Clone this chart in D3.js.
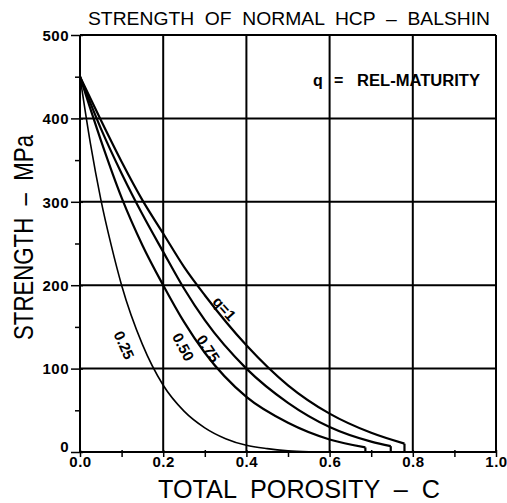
<!DOCTYPE html>
<html><head><meta charset="utf-8">
<script src="https://cdn.jsdelivr.net/npm/d3@7"></script>
<style>body{margin:0;background:#fff}svg{display:block}text{white-space:pre}</style>
</head><body>
<script>
// ---- data ----
const xTicks = [0, 0.2, 0.4, 0.6, 0.8, 1.0];
const xTickLabels = ["0.0", "0.2", "0.4", "0.6", "0.8", "1.0"];
const yTicks = [0, 100, 200, 300, 400, 500];
const yTickLabels = ["0", "100", "200", "300", "400", "500"];
const seriesNames = ["q=1", "0.75", "0.50", "0.25"];
const curveQ1 = [[0,450],[0.05,398],[0.1,348],[0.15,302],[0.2,262],[0.25,222],[0.3,188],[0.4,128],[0.5,80],[0.6,46],[0.7,23],[0.78,10]];
const curveQ075 = [[0,450],[0.05,388],[0.1,334],[0.15,285],[0.2,240],[0.25,196],[0.3,158],[0.4,100],[0.5,59],[0.6,30],[0.7,12.5],[0.747,7]];
const curveQ050 = [[0,450],[0.05,374],[0.1,305],[0.15,248],[0.2,200],[0.25,156],[0.3,119],[0.4,66],[0.5,35],[0.6,15],[0.686,5.5]];
const curveQ025 = [[0,450],[0.025,370],[0.05,303],[0.075,248],[0.1,200],[0.15,129],[0.2,80],[0.25,49],[0.3,29],[0.35,16],[0.4,8],[0.45,4],[0.5,1.5],[0.55,0.3]];
const seriesData = [curveQ1, curveQ075, curveQ050, curveQ025];
const seriesDrop = [true, true, true, false];
const title = "STRENGTH  OF  NORMAL  HCP  \u2013  BALSHIN";
const xTitle = "TOTAL  POROSITY  \u2013  C";
const yTitle = "STRENGTH  \u2013  MPa";
const legendText = ["q", "=", "REL-MATURITY"];

// ---- drawing ----
const W = 507, H = 503;
const svg = d3.select("body").append("svg").attr("width", W).attr("height", H);
const x = d3.scaleLinear().domain([0, 1]).range([80, 496]);
const y = d3.scaleLinear().domain([0, 500]).range([452, 35]);
const font = "'Liberation Sans', Arial, sans-serif";

// grid
const g = svg.append("g");
g.selectAll(".vg").data(xTicks).join("line")
  .attr("x1", d => x(d)).attr("x2", d => x(d)).attr("y1", y(0)).attr("y2", y(500))
  .attr("stroke", "#000").attr("stroke-width", 2);
g.selectAll(".hg").data(yTicks).join("line")
  .attr("x1", x(0)).attr("x2", x(1)).attr("y1", d => y(d)).attr("y2", d => y(d))
  .attr("stroke", "#000").attr("stroke-width", 2);

// axes ticks
const yAxis = d3.axisLeft(y).tickValues(d3.range(0, 501, 50)).tickSize(0).tickFormat("");
const ya = svg.append("g").attr("transform", `translate(${x(0)},0)`).call(yAxis);
ya.select(".domain").remove();
ya.selectAll(".tick").append("line").attr("x1", d => d % 100 === 0 ? -9 : -5).attr("x2", d => d % 100 === 0 ? 3 : 0)
  .attr("stroke", "#000").attr("stroke-width", 1.5);
ya.selectAll(".tick").filter(d => d % 100 === 0).append("text")
  .attr("x", -11).attr("dy", d => d === 0 ? "-0.05em" : "0.35em")
  .attr("text-anchor", "end").attr("fill", "#000")
  .style("font", `bold 15px ${font}`).style("letter-spacing", "0.5px")
  .text(d => yTickLabels[yTicks.indexOf(d)]);

const xAxis = d3.axisBottom(x).tickValues(d3.range(0, 11).map(i => i / 10)).tickSize(0).tickFormat("");
const xa = svg.append("g").attr("transform", `translate(0,${y(0)})`).call(xAxis);
xa.select(".domain").remove();
xa.selectAll(".tick").append("line").attr("y1", -2).attr("y2", 5)
  .attr("stroke", "#000").attr("stroke-width", 1.5);
xa.selectAll(".tick").filter((d, i) => i % 2 === 0).append("text")
  .attr("y", 15).attr("text-anchor", "middle").attr("fill", "#000")
  .style("font", `bold 15px ${font}`).style("letter-spacing", "0.5px")
  .text(d => xTickLabels[Math.round(d * 5)]);

// curves
const line = d3.line().x(d => x(d[0])).y(d => y(d[1])).curve(d3.curveMonotoneX);
seriesData.forEach((data, i) => {
  svg.append("path").attr("d", line(data)).attr("fill", "none")
    .attr("stroke", "#000").attr("stroke-width", i === 3 ? 1.6 : 2.2);
  if (seriesDrop[i]) {
    const last = data[data.length - 1];
    svg.append("line").attr("x1", x(last[0])).attr("x2", x(last[0]))
      .attr("y1", y(last[1])).attr("y2", y(0)).attr("stroke", "#000").attr("stroke-width", 2.2);
  }
});

// curve labels
const labelPos = [[0.347, 172, 48], [0.308, 124, 57], [0.248, 126, 62], [0.106, 128, 66]];
seriesNames.forEach((n, i) => {
  const p = labelPos[i];
  svg.append("text").attr("transform", `translate(${x(p[0])},${y(p[1])}) rotate(${p[2]})`)
    .attr("text-anchor", "middle").attr("dy", "0.35em")
    .style("font", `bold 15px ${font}`).attr("fill", "#000")
    .text(n);
});

// legend
const lgY = 86;
svg.append("text").attr("x", 313).attr("y", lgY).style("font", `bold 16px ${font}`).attr("fill", "#000").text(legendText[0]);
svg.append("text").attr("x", 334).attr("y", lgY).style("font", `bold 16px ${font}`).attr("fill", "#000").text(legendText[1]);
svg.append("text").attr("x", 357).attr("y", lgY).attr("textLength", 123).attr("lengthAdjust", "spacingAndGlyphs")
  .style("font", `bold 16px ${font}`).attr("fill", "#000").text(legendText[2]);

// titles
svg.append("text").attr("x", 88).attr("y", 25).attr("textLength", 402).attr("lengthAdjust", "spacingAndGlyphs")
  .style("font", `19px ${font}`).attr("fill", "#000").text(title);
svg.append("text").attr("x", 158).attr("y", 498).attr("textLength", 282).attr("lengthAdjust", "spacingAndGlyphs")
  .style("font", `26px ${font}`).attr("fill", "#000").text(xTitle);
svg.append("text").attr("transform", "translate(33,340) rotate(-90)").attr("textLength", 205).attr("lengthAdjust", "spacingAndGlyphs")
  .style("font", `27px ${font}`).attr("fill", "#000").text(yTitle);
</script>
</body></html>
